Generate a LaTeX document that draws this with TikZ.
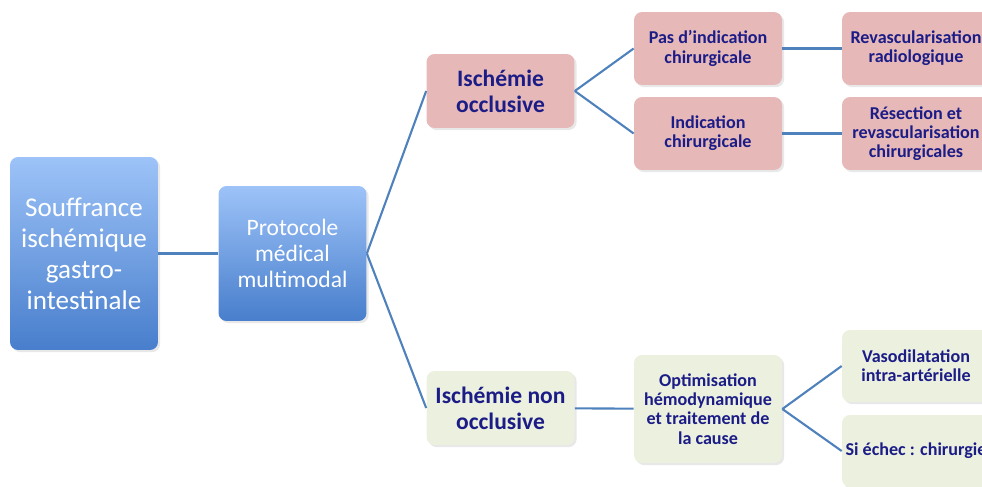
\documentclass[tikz,border=0pt]{standalone}
\usepackage{fontspec}
\setmainfont{Carlito}
\usepackage{xcolor}
\usepackage{tikz}
\usetikzlibrary{shadows}

\definecolor{linkblue}{RGB}{79,129,189}
\definecolor{navytext}{RGB}{28,28,135}
\definecolor{pinkbox}{RGB}{230,185,184}
\definecolor{greenbox}{RGB}{235,241,222}
\definecolor{bluetop}{RGB}{157,195,248}
\definecolor{bluebot}{RGB}{72,126,204}

\begin{document}
\begin{tikzpicture}[x=0.02cm, y=-0.02cm,
    box/.style={rounded corners=0.16cm, align=center, inner sep=2pt, minimum width=2.96cm,
        drop shadow={opacity=0.18, shadow xshift=1.2pt, shadow yshift=-1.2pt}},
    bluebox/.style={box, top color=bluetop, bottom color=bluebot, text=white},
    occlbox/.style={box, fill=pinkbox, text=navytext},
    nonoccbox/.style={box, fill=greenbox, text=navytext},
    bigfont/.style={font=\bfseries\fontsize{13.4}{14.9}\selectfont},
    smallfont/.style={font=\bfseries\fontsize{10.3}{11}\selectfont},
    link/.style={draw=linkblue, line width=1.2pt}]
        \useasboundingbox (0,0) rectangle (982,486);
        \clip (0,0) rectangle (982,486);
        % Root
        \node[bluebox, minimum height=3.86cm, font=\fontsize{15.4}{17.6}\selectfont] (souf) at (84,253.5)
            {Souffrance\\ischémique\\gastro-\\intestinale};
        \node[bluebox, minimum height=2.7cm, font=\fontsize{13.4}{15}\selectfont] (prot) at (292.5,253.5)
            {Protocole\\médical\\multimodal};
        \draw[link] (souf) -- (prot);
        % Occlusive branch
        \node[occlbox, bigfont, minimum height=1.48cm] (occl) at (500.5,91) {Ischémie\\occlusive};
        \node[occlbox, smallfont, minimum height=1.46cm] (pasind) at (708,48.5) {Pas d’indication\\chirurgicale};
        \node[occlbox, smallfont, minimum height=1.46cm] (ind) at (708,133.5) {Indication\\chirurgicale};
        \node[occlbox, smallfont, minimum height=1.46cm] (revasc) at (916,48.5) {Revascularisation\\radiologique};
        \node[occlbox, smallfont, minimum height=1.46cm] (resec) at (916,133.5)
            {Résection et\\revascularisation\\chirurgicales};
        % Non occlusive branch
        \node[nonoccbox, bigfont, minimum height=1.48cm] (nonocc) at (500.5,408) {Ischémie non\\occlusive};
        \node[nonoccbox, smallfont, minimum height=2.16cm] (optim) at (708,409)
            {Optimisation\\hémodynamique\\et traitement de\\la cause};
        \node[nonoccbox, smallfont, minimum height=1.44cm] (vaso) at (916,366) {Vasodilatation\\intra-artérielle};
        \node[nonoccbox, smallfont, minimum height=1.44cm] (echec) at (916,451) {Si échec : chirurgie};
        % Links
        \draw[link] (prot.east) -- (occl.west);
        \draw[link] (prot.east) -- (nonocc.west);
        \draw[link] (occl.east) -- (pasind.west);
        \draw[link] (occl.east) -- (ind.west);
        \draw[link] (pasind) -- (revasc);
        \draw[link] (ind) -- (resec);
        \draw[link] (nonocc) -- (optim);
        \draw[link] (optim.east) -- (vaso.west);
        \draw[link] (optim.east) -- (echec.west);
    \end{tikzpicture}
\end{document}
